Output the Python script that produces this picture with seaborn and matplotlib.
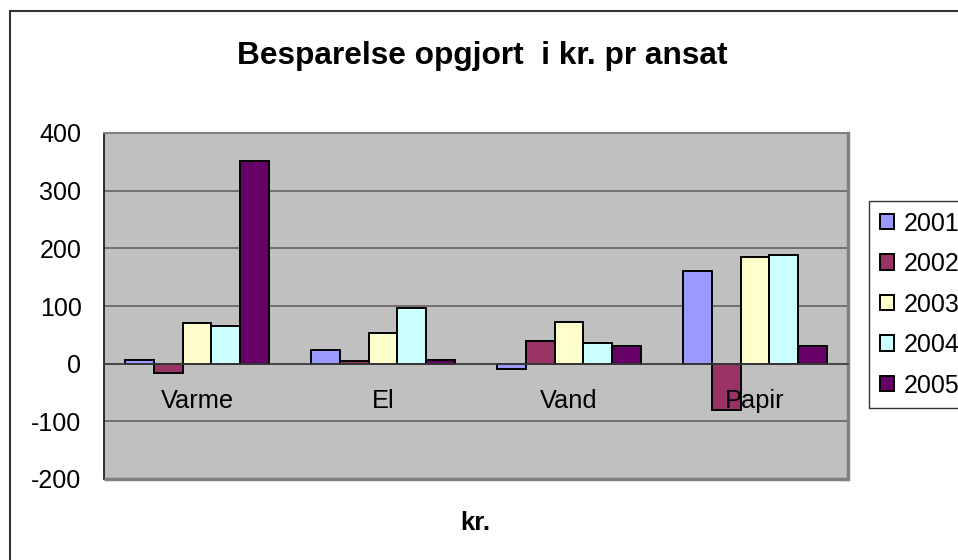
"""Besparelse opgjort i kr. pr ansat - grouped bar chart."""

import matplotlib
matplotlib.use("Agg")
import matplotlib.pyplot as plt
from matplotlib.patches import Patch, Rectangle
import seaborn as sns
import pandas as pd


# data
categories = ['Varme', 'El', 'Vand', 'Papir']
years = ['2001', '2002', '2003', '2004', '2005']
v2001 = [7, 24, -10, 160]
v2002 = [-17, 4, 39, -80]
v2003 = [70, 53, 73, 185]
v2004 = [66, 97, 35, 188]
v2005 = [351, 7, 31, 31]
y_ticks = [-200, -100, 0, 100, 200, 300, 400]

colors = ['#9999FF', '#993366', '#FFFFCC', '#CCFFFF', '#660066']

sns.set_style("white")
plt.rcParams['font.family'] = ['Liberation Sans', 'DejaVu Sans']
plt.rcParams['axes.unicode_minus'] = False
plt.rcParams['text.color'] = 'black'
plt.rcParams['xtick.labelcolor'] = 'black'
plt.rcParams['ytick.labelcolor'] = 'black'

rows = []
for year, vals in zip(years, [v2001, v2002, v2003, v2004, v2005]):
    for cat, v in zip(categories, vals):
        rows.append({'kategori': cat, 'år': year, 'kr': v})
df = pd.DataFrame(rows)

W, H = 958, 560
fig = plt.figure(figsize=(W / 100, H / 100), dpi=100)
ax = fig.add_axes([104 / W, 1 - 479 / H, 744 / W, 346 / H])
ax.set_facecolor('#C0C0C0')

sns.barplot(data=df, x='kategori', y='kr', hue='år', order=categories,
            hue_order=years, palette=colors, width=0.77, edgecolor='black',
            linewidth=1.4, saturation=1, legend=False, ax=ax, zorder=2)

ax.set_axisbelow(False)
ax.set_xlim(-0.5, 3.5)
ax.set_ylim(-200, 400)
ax.set_yticks(y_ticks)
ax.tick_params(axis='y', labelsize=18, length=8.7, width=1.2,
               color='#202020', pad=7.5, labelcolor='black')

# gridlines drawn by hand so that the axis labels can sit above the bars
for v in y_ticks:
    ax.axhline(v, color='#5a5a5a', lw=1.1, zorder=0)

# category axis sits at zero, ticks between categories
ax.spines['bottom'].set_position(('data', 0))
ax.spines['bottom'].set_color('#404040')
ax.spines['bottom'].set_linewidth(1.2)
ax.set_xticks([0.5, 1.5, 2.5, 3.5])
ax.set_xticklabels([])
ax.set_xticks(range(len(categories)), labels=categories, minor=True)
ax.tick_params(axis='x', which='major', direction='out', length=8,
               width=1.2, color='#404040')
ax.tick_params(axis='x', which='minor', length=0, labelsize=18.3, pad=18,
               labelcolor='black')

ax.spines['left'].set_color('#202020')
ax.spines['left'].set_linewidth(1.3)
for side in ['top', 'right']:
    ax.spines[side].set_color('#808080')
    ax.spines[side].set_linewidth(1.5)
ax.spines['right'].set_linewidth(2.5)
ax.add_patch(Rectangle((0, 0), 1, 0, transform=ax.transAxes, fill=False,
                       edgecolor='#808080', lw=2.5, clip_on=False, zorder=3))

ax.set_xlabel('')
ax.set_ylabel('')

fig.text(482 / W, 1 - 56 / H, 'Besparelse opgjort  i kr. pr ansat',
         ha='center', va='center', fontsize=22.8, fontweight='bold')
fig.text(475 / W, 1 - 523 / H, 'kr.', ha='center', va='center',
         fontsize=18.5, fontweight='bold')

handles = [Patch(facecolor=c, edgecolor='black', lw=1.4) for c in colors]
leg = fig.legend(handles, years, loc='upper left',
                 bbox_to_anchor=(869 / W, 1 - 201 / H),
                 bbox_transform=fig.transFigure, fontsize=18,
                 frameon=True, fancybox=False, edgecolor='black',
                 handlelength=0.58, handleheight=0.58, handletextpad=0.4,
                 labelspacing=0.66, borderpad=0.42, borderaxespad=0)
leg.get_frame().set_linewidth(1.0)

# chart area border (right and bottom edges fall outside the image)
fig.patches.append(Rectangle((10 / W, -0.1), 1.2, 1 - 11 / H + 0.1,
                             transform=fig.transFigure, fill=False,
                             edgecolor='#333333', lw=1.5))

fig.savefig('out.png', dpi=100)
